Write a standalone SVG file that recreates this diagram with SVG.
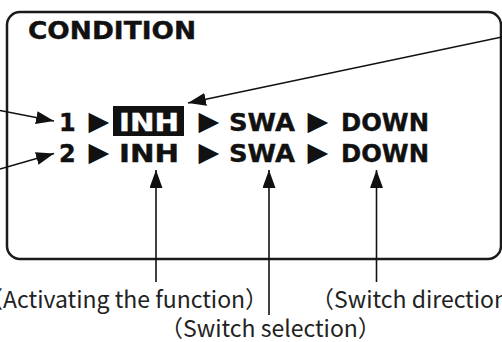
<svg xmlns="http://www.w3.org/2000/svg" width="502" height="342" viewBox="0 0 502 342">
<style>
.box{fill:none;stroke:#1a1a1a;stroke-width:2.5}
.b{font-family:"DejaVu Sans",Verdana,sans-serif;font-weight:bold;font-size:24px;fill:#111;stroke:#111;stroke-width:0.4}
.tri{font-family:"DejaVu Sans",sans-serif;font-size:27px;fill:#111}
.lbl{font-family:"Noto Sans CJK JP","Noto Sans",sans-serif;font-size:23px;fill:#222}
.ln{fill:none;stroke:#111;stroke-width:1.6}
</style>
<defs>
<marker id="ah" markerUnits="userSpaceOnUse" markerWidth="20" markerHeight="14" refX="18" refY="6.5" orient="auto">
<path d="M0,0 L18,6.5 L0,13 z" fill="#111"/>
</marker>
</defs>
<g id="panel">
<rect class="box" x="7" y="12" width="494" height="247" rx="13"/>
<text class="b" x="28" y="38.5" font-size="22" textLength="168" lengthAdjust="spacingAndGlyphs">CONDITION</text>
</g>
<g id="row1">
<text class="b" x="59" y="130.5">1</text>
<text class="tri" x="99" y="130" text-anchor="middle">▶</text>
<rect x="113" y="106" width="71" height="30" fill="#111"/>
<text class="b" x="119" y="130.5" style="fill:#fff;stroke:#fff" textLength="60" lengthAdjust="spacingAndGlyphs">INH</text>
<text class="tri" x="209" y="130" text-anchor="middle">▶</text>
<text class="b" x="229" y="130.5" textLength="66" lengthAdjust="spacingAndGlyphs">SWA</text>
<text class="tri" x="318" y="130" text-anchor="middle">▶</text>
<text class="b" x="341" y="130.5" textLength="88" lengthAdjust="spacingAndGlyphs">DOWN</text>
</g>
<g id="row2">
<text class="b" x="59" y="161.5">2</text>
<text class="tri" x="99" y="161" text-anchor="middle">▶</text>
<text class="b" x="119" y="161.5" textLength="60" lengthAdjust="spacingAndGlyphs">INH</text>
<text class="tri" x="209" y="161" text-anchor="middle">▶</text>
<text class="b" x="229" y="161.5" textLength="66" lengthAdjust="spacingAndGlyphs">SWA</text>
<text class="tri" x="318" y="161" text-anchor="middle">▶</text>
<text class="b" x="341" y="161.5" textLength="88" lengthAdjust="spacingAndGlyphs">DOWN</text>
</g>
<g id="labels">
<text class="lbl" x="-20" y="308">（Activating the function）</text>
<text class="lbl" x="160" y="337">（Switch selection）</text>
<text class="lbl" x="311" y="308">（Switch direction）</text>
</g>
<g id="connectors">
<line class="ln" x1="0" y1="110.5" x2="54" y2="121" marker-end="url(#ah)"/>
<line class="ln" x1="0" y1="169" x2="54" y2="153.5" marker-end="url(#ah)"/>
<line class="ln" x1="502" y1="37" x2="188" y2="103" marker-end="url(#ah)"/>
<line class="ln" x1="156" y1="282" x2="156" y2="170" marker-end="url(#ah)"/>
<line class="ln" x1="269" y1="315" x2="269" y2="170" marker-end="url(#ah)"/>
<line class="ln" x1="376.5" y1="282" x2="376.5" y2="170" marker-end="url(#ah)"/>
</g>
</svg>
